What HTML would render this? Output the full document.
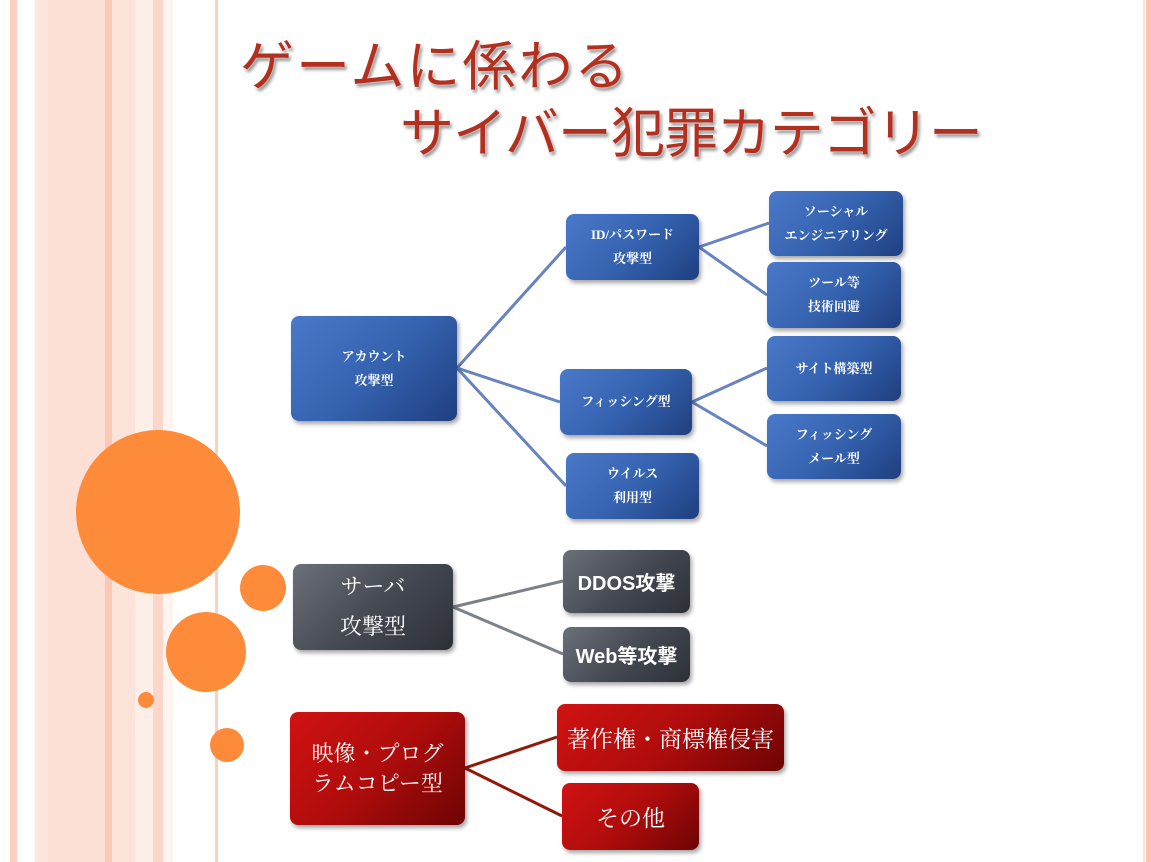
<!DOCTYPE html>
<html><head><meta charset="utf-8"><style>
body{margin:0;width:1151px;height:862px;position:relative;overflow:hidden;background:#fff;font-family:"Liberation Serif","Noto Serif CJK SC","Noto Sans CJK JP",serif}
.s{position:absolute;top:0;height:862px}
.c{position:absolute;border-radius:50%;background:#fd8b3a}
.b{position:absolute;border-radius:8px;color:#fff;display:flex;align-items:center;justify-content:center;text-align:center;box-shadow:2px 3px 4px rgba(0,0,0,.35);font-weight:bold}
.bl{background:linear-gradient(135deg,#4b79c9 0%,#3563b0 50%,#1f3f80 100%);font-size:13px;line-height:24px}
.gr{background:linear-gradient(135deg,#6b7079 0%,#454a53 50%,#2d3037 100%)}
.rd{background:linear-gradient(135deg,#d01212 0%,#b00c0c 50%,#6d0404 100%);font-weight:normal}
.t{position:absolute;color:#b3301f;font-family:"Noto Sans CJK JP",sans-serif;font-weight:400;font-size:54px;line-height:60px;white-space:nowrap;text-shadow:0 0 2px #fff,2px 3px 3px rgba(0,0,0,.45)}
</style></head><body>
<div class="s" style="left:10px;width:7px;background:#fcd0c0"></div>
<div class="s" style="left:35px;width:13px;background:#fde6de"></div>
<div class="s" style="left:48px;width:57px;background:#fde0d5"></div>
<div class="s" style="left:105px;width:7px;background:#fcc8b6"></div>
<div class="s" style="left:112px;width:23px;background:#fde4da"></div>
<div class="s" style="left:135px;width:18px;background:#feeee8"></div>
<div class="s" style="left:153px;width:10px;background:#fcd6c8"></div>
<div class="s" style="left:163px;width:10px;background:#fef4f0"></div>
<div class="s" style="left:215px;width:3px;background:#fcd0c0"></div>
<div class="s" style="left:1143px;width:2px;background:#fde2d8"></div>
<div class="s" style="left:1146px;width:5px;background:#fcc4ae"></div>
<div class="c" style="left:76px;top:430px;width:164px;height:164px"></div>
<div class="c" style="left:240px;top:565px;width:46px;height:46px"></div>
<div class="c" style="left:166px;top:612px;width:80px;height:80px"></div>
<div class="c" style="left:138px;top:692px;width:16px;height:16px"></div>
<div class="c" style="left:210px;top:728px;width:34px;height:34px"></div>
<div class="t" style="left:240px;top:32px;letter-spacing:2px">ゲームに係わる</div>
<div class="t" style="left:400px;top:99px;letter-spacing:-1px">サイバー犯罪カテゴリー</div>
<svg style="position:absolute;left:0;top:0" width="1151" height="862">
<g stroke="#6783c0" stroke-width="3" fill="none">
<path d="M457 368 L566 247 M457 368 L560 402 M457 368 L566 486 M699 247 L769 223 M699 247 L767 295 M692 402 L767 368 M692 402 L767 446"/>
</g>
<g stroke="#7c8088" stroke-width="3" fill="none"><path d="M453 607 L563 581 M453 607 L563 654"/></g>
<g stroke="#8f1a0c" stroke-width="3" fill="none"><path d="M465 768 L557 737 M465 768 L562 816"/></g>
</svg>
<div class="b bl" style="left:291px;top:316px;width:166px;height:105px">アカウント<br>攻撃型</div>
<div class="b bl" style="left:566px;top:214px;width:133px;height:66px">ID/パスワード<br>攻撃型</div>
<div class="b bl" style="left:769px;top:191px;width:134px;height:65px">ソーシャル<br>エンジニアリング</div>
<div class="b bl" style="left:767px;top:262px;width:134px;height:66px">ツール等<br>技術回避</div>
<div class="b bl" style="left:560px;top:369px;width:132px;height:66px">フィッシング型</div>
<div class="b bl" style="left:767px;top:336px;width:134px;height:65px">サイト構築型</div>
<div class="b bl" style="left:767px;top:414px;width:134px;height:65px">フィッシング<br>メール型</div>
<div class="b bl" style="left:566px;top:453px;width:133px;height:66px">ウイルス<br>利用型</div>
<div class="b gr" style="left:293px;top:564px;width:160px;height:86px;font-size:22px;line-height:40px;font-weight:normal">サーバ<br>攻撃型</div>
<div class="b gr" style="left:563px;top:550px;width:127px;height:63px;font-size:20px;font-family:'Liberation Sans','Noto Sans CJK JP',sans-serif">DDOS攻撃</div>
<div class="b gr" style="left:563px;top:627px;width:127px;height:55px;font-size:20px;font-family:'Liberation Sans','Noto Sans CJK JP',sans-serif">Web等攻撃</div>
<div class="b rd" style="left:290px;top:712px;width:175px;height:113px;font-size:22px;line-height:30px">映像・プログ<br>ラムコピー型</div>
<div class="b rd" style="left:557px;top:704px;width:227px;height:67px;font-size:23px">著作権・商標権侵害</div>
<div class="b rd" style="left:562px;top:783px;width:137px;height:67px;font-size:23px">その他</div>
</body></html>
